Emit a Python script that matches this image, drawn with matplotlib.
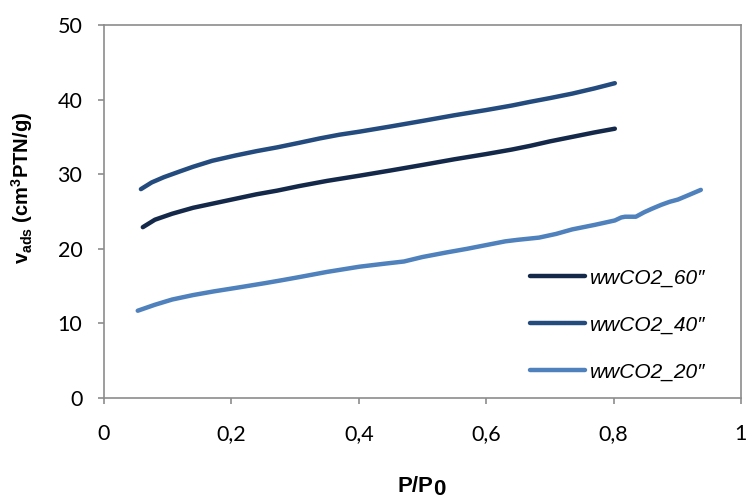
import matplotlib
matplotlib.use("Agg")
import matplotlib.pyplot as plt

# Adsorption isotherms
x60 = [0.061, 0.080, 0.107, 0.140, 0.173, 0.206, 0.239, 0.272, 0.306, 0.350, 0.401,
       0.450, 0.504, 0.550, 0.600, 0.640, 0.669, 0.700, 0.735, 0.770, 0.802]
y60 = [22.9, 23.9, 24.7, 25.5, 26.1, 26.7, 27.3, 27.8, 28.4, 29.1, 29.8,
       30.5, 31.3, 32.0, 32.7, 33.3, 33.8, 34.4, 35.0, 35.6, 36.1]

x40 = [0.058, 0.075, 0.094, 0.120, 0.140, 0.170, 0.206, 0.240, 0.272, 0.306, 0.339,
       0.370, 0.401, 0.450, 0.504, 0.550, 0.600, 0.640, 0.669, 0.700, 0.735, 0.770, 0.802]
y40 = [28.0, 28.9, 29.6, 30.4, 31.0, 31.8, 32.5, 33.1, 33.6, 34.2, 34.8,
       35.3, 35.7, 36.4, 37.2, 37.9, 38.6, 39.2, 39.7, 40.2, 40.8, 41.5, 42.2]

x20 = [0.053, 0.080, 0.107, 0.140, 0.173, 0.210, 0.253, 0.280, 0.306, 0.350, 0.401,
       0.440, 0.471, 0.500, 0.537, 0.570, 0.600, 0.630, 0.649, 0.683, 0.710,
       0.735, 0.770, 0.802, 0.812, 0.818, 0.835, 0.848, 0.861, 0.875, 0.888,
       0.901, 0.915, 0.937]
y20 = [11.7, 12.5, 13.2, 13.8, 14.3, 14.8, 15.4, 15.8, 16.2, 16.9, 17.6,
       18.0, 18.3, 18.9, 19.5, 20.0, 20.5, 21.0, 21.2, 21.5, 22.0,
       22.6, 23.2, 23.8, 24.2, 24.3, 24.3, 24.9, 25.4, 25.9, 26.3,
       26.6, 27.1, 27.9]

series = [("wwCO2_60\u2033", x60, y60, "#14294a"),
          ("wwCO2_40\u2033", x40, y40, "#244b7e"),
          ("wwCO2_20\u2033", x20, y20, "#4f81bd")]

xticks = [0, 0.2, 0.4, 0.6, 0.8, 1]
xtick_labels = ["0", "0,2", "0,4", "0,6", "0,8", "1"]
yticks = [0, 10, 20, 30, 40, 50]

plt.rcParams["mathtext.fontset"] = "custom"
plt.rcParams["mathtext.rm"] = "Liberation Sans:bold"
plt.rcParams["mathtext.bf"] = "Liberation Sans:bold"

fig = plt.figure(figsize=(7.48, 5.04), dpi=100)
ax = fig.add_axes([0.139, 0.2103, 0.8516, 0.7401])

for label, xs, ys, col in series:
    ax.plot(xs, ys, color=col, lw=3.2, solid_capstyle="round",
            solid_joinstyle="round", label=label)

ax.set_xlim(0, 1)
ax.set_ylim(0, 50)
ax.set_xticks(xticks)
ax.set_xticklabels(xtick_labels)
ax.set_yticks(yticks)

for sp in ax.spines.values():
    sp.set_color("#8c8c8c")
    sp.set_linewidth(1.2)
ax.tick_params(direction="out", length=4.5, width=1.2, color="#8c8c8c",
               labelsize=15.5, labelcolor="black")
ax.tick_params(axis="y", pad=11)
ax.tick_params(axis="x", pad=14)
for t in ax.get_xticklabels() + ax.get_yticklabels():
    t.set_family("Lato")

# x label: P/P with a full-size, lowered 0
xl = ax.text(0.4615, -0.252, "P/P", transform=ax.transAxes, fontsize=16,
             fontweight="bold", family="Liberation Sans", ha="left",
             va="baseline")
ax.annotate("0", xy=(1, 0), xycoords=xl, xytext=(-0.5, -2.5),
            textcoords="offset points", fontsize=16, fontweight="bold",
            family="Liberation Sans", ha="left", va="bottom")

ax.set_ylabel("v$_{\\mathbf{ads}}$ (cm$^{\\mathbf{3}}$PTN/g)", fontsize=14.5,
              fontweight="bold", family="Liberation Sans")
ax.yaxis.set_label_coords(-0.108, 0.563)

leg = ax.legend(loc="center left", frameon=False, handlelength=2.64,
                handletextpad=0.24, labelspacing=1.34, borderpad=0,
                borderaxespad=0,
                prop={"family": "Liberation Sans", "style": "italic", "size": 15},
                bbox_to_anchor=(530 / 748, 1 - 325 / 504),
                bbox_transform=fig.transFigure)

fig.savefig("out.png", dpi=100)
